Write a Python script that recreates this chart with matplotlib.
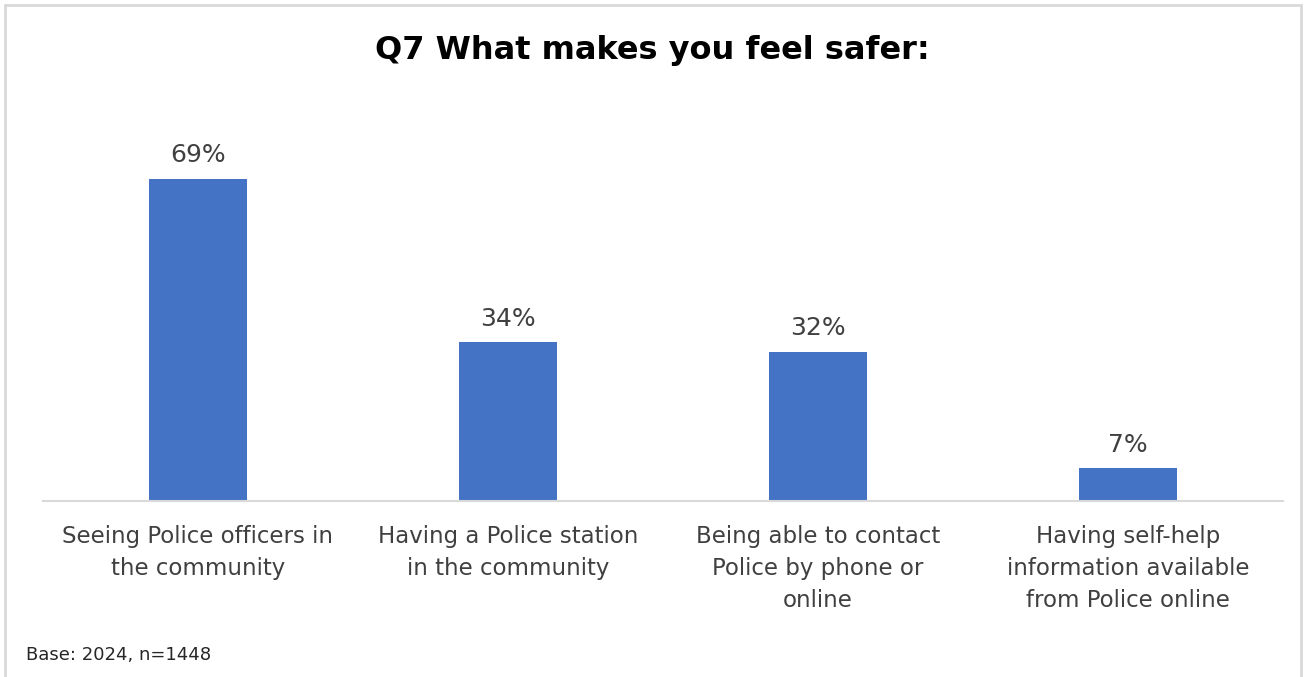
import matplotlib
matplotlib.use("Agg")
import matplotlib.pyplot as plt
from matplotlib.patches import Rectangle

categories = [
    "Seeing Police officers in\nthe community",
    "Having a Police station\nin the community",
    "Being able to contact\nPolice by phone or\nonline",
    "Having self-help\ninformation available\nfrom Police online",
]
values = [69, 34, 32, 7]

W, H = 1306, 677
fig = plt.figure(figsize=(W / 100, H / 100), dpi=100)
plt.rcParams["font.family"] = ["DejaVu Sans"]

# outer chart frame
fig.patches.append(Rectangle((5 / W, -0.01), 1296 / W, 1 - 5 / H + 0.01,
                             transform=fig.transFigure, fill=False,
                             edgecolor="#d9d9d9", linewidth=2))

ax = fig.add_axes([43 / W, (H - 501) / H, 1240 / W, 373.3 / H])
x = range(len(values))
bars = ax.bar(x, values, width=0.313, color="#4472C4")

ax.set_xlim(-0.5, len(values) - 0.5)
ax.set_ylim(0, 80)

for b, v in zip(bars, values):
    ax.text(b.get_x() + b.get_width() / 2, v + 2.5, f"{v}%",
            ha="center", va="bottom", fontsize=18, color="#404040")

ax.set_xticks(list(x))
ax.set_xticklabels(categories, fontsize=16.5, color="#404040", linespacing=1.5,
                   va="top")
ax.tick_params(axis="x", length=0, pad=17)
ax.set_yticks([])

for side in ["top", "right", "left"]:
    ax.spines[side].set_visible(False)
ax.spines["bottom"].set_color("#d9d9d9")
ax.spines["bottom"].set_linewidth(1.5)

fig.text(652 / W, 1 - 51 / H, "Q7 What makes you feel safer:",
         ha="center", va="center", fontsize=23, fontweight="bold", color="black")
fig.text(26 / W, 1 - 655 / H, "Base: 2024, n=1448",
         ha="left", va="center", fontsize=13, color="#262626")

plt.savefig("out.png", dpi=100)
plt.close()
